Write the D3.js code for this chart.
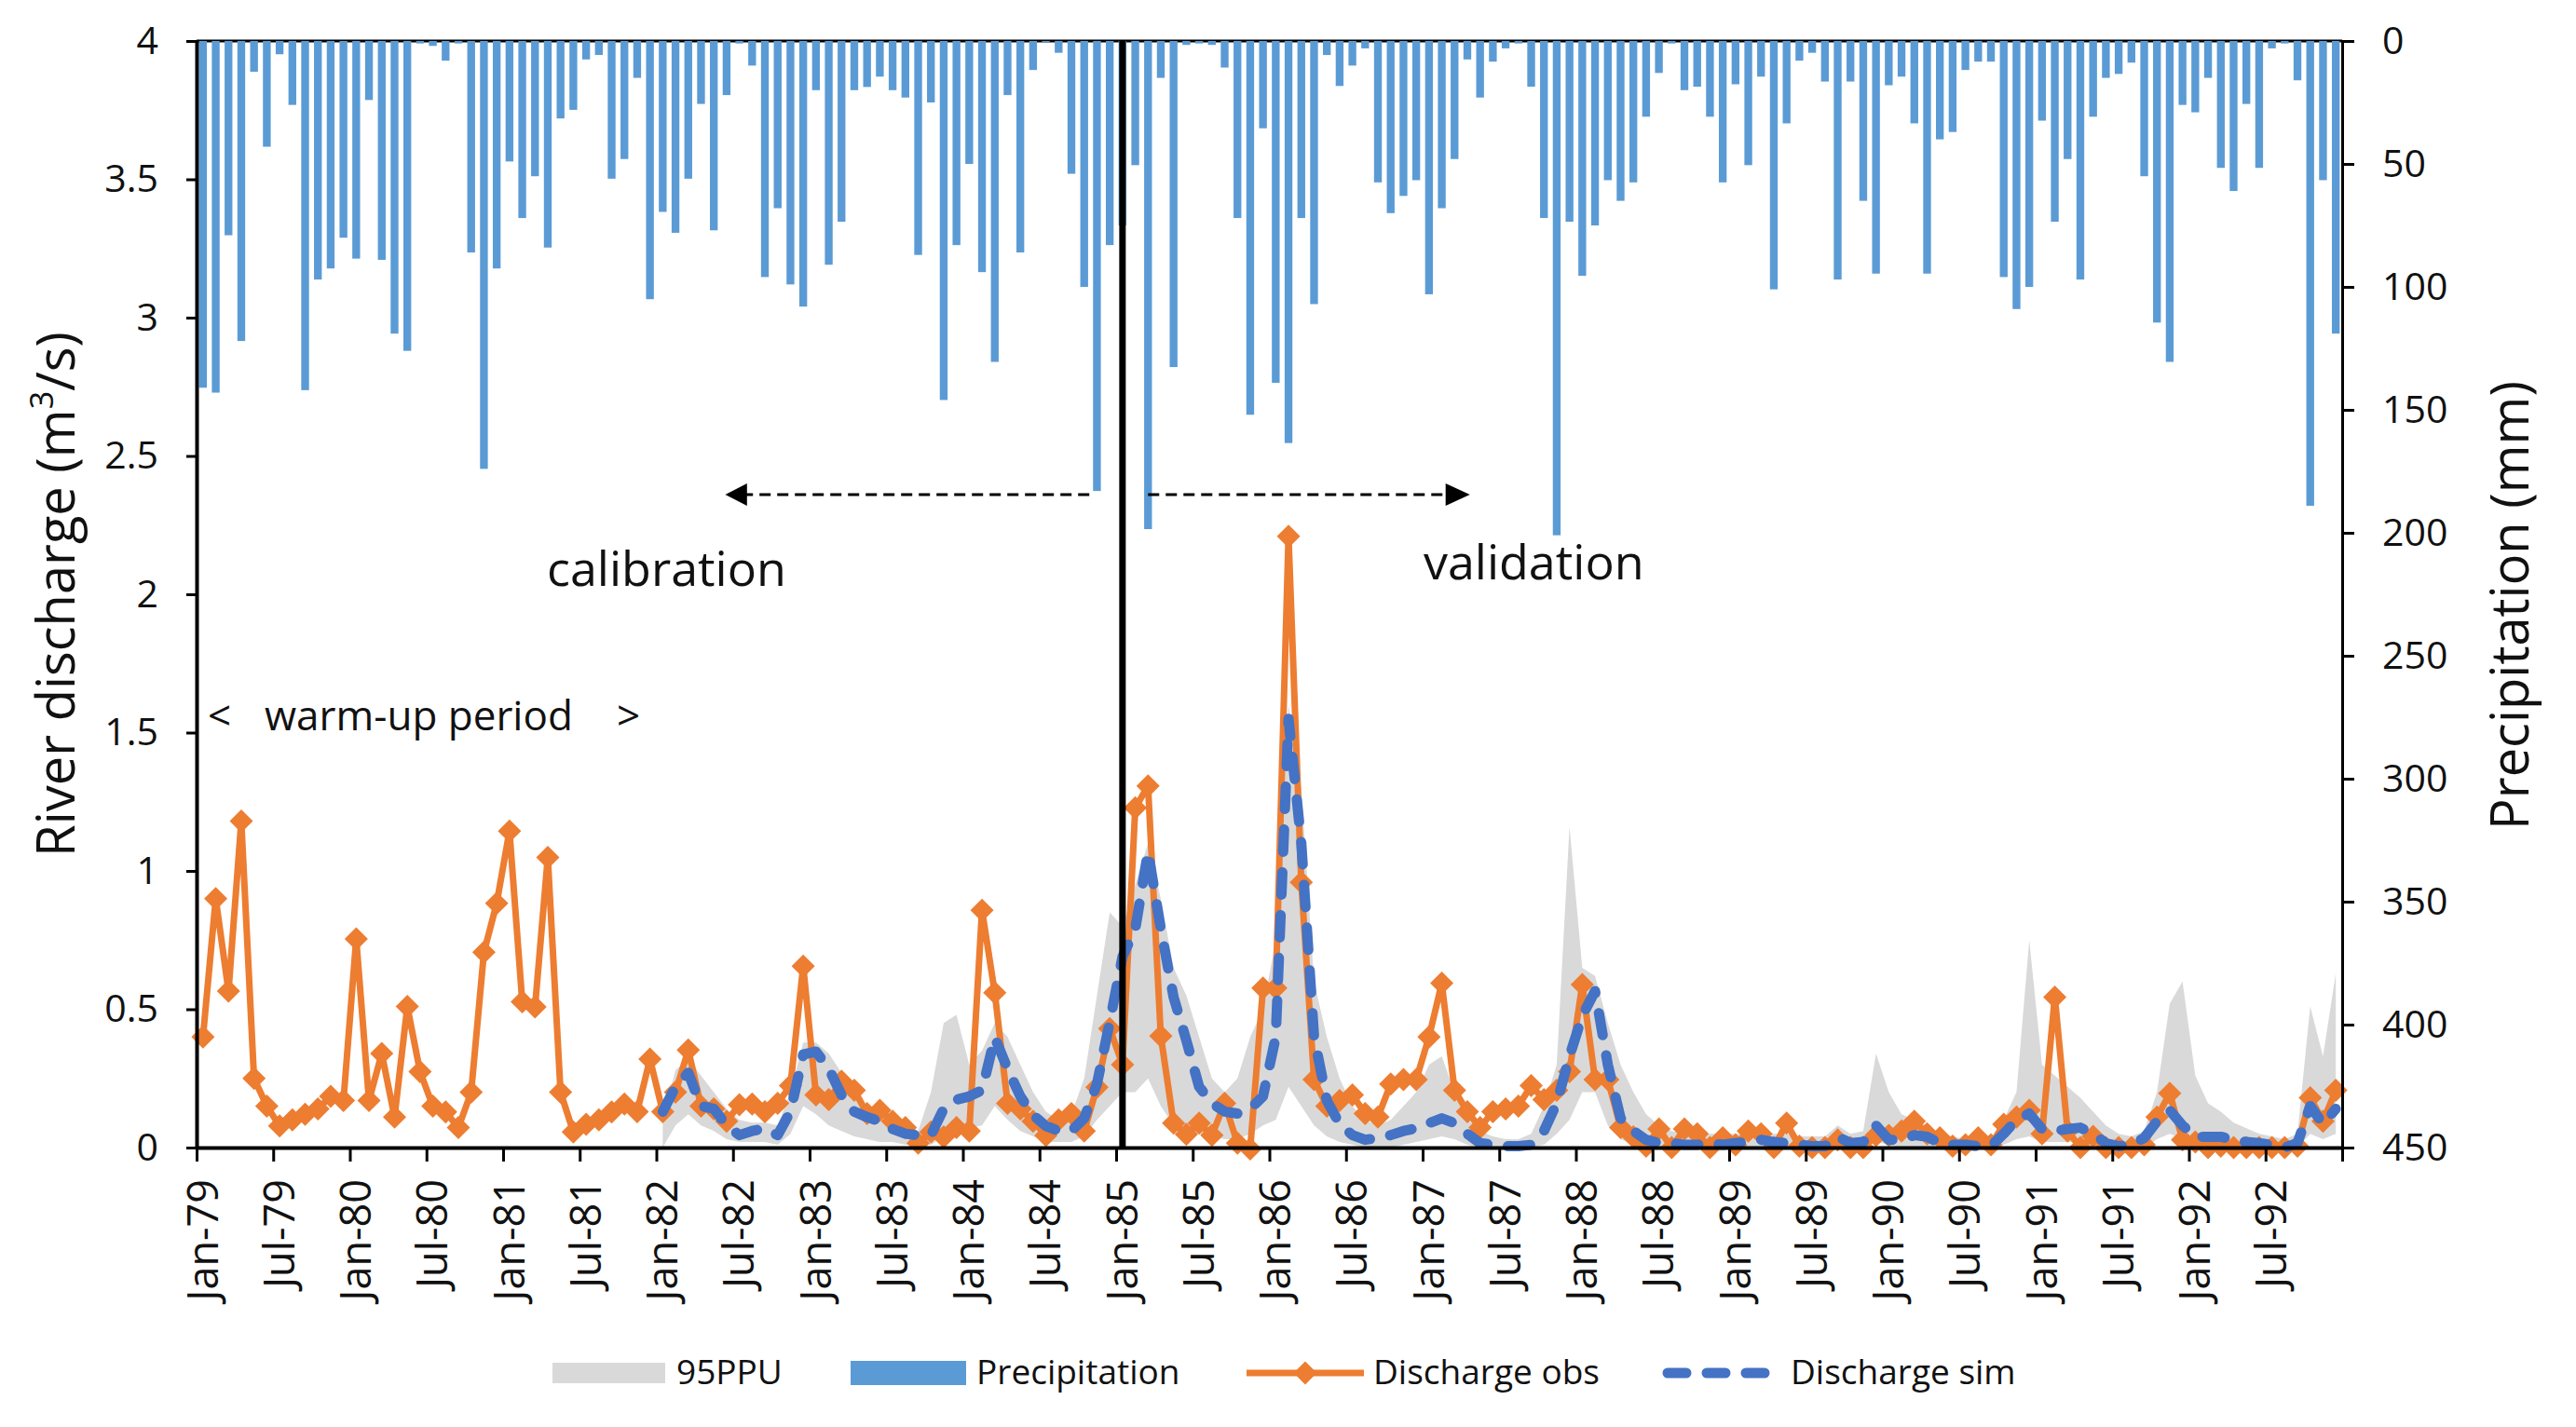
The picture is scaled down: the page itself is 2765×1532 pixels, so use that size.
<!DOCTYPE html>
<html>
<head>
<meta charset="utf-8">
<script src="https://cdn.jsdelivr.net/npm/d3@7"></script>
<style>
  body { margin: 0; background: #fff; }
  text { font-family: "Open Sans", "Noto Sans", sans-serif; fill: #111; }
</style>
</head>
<body>
<div id="chart"></div>
<script>
// months Jan-79 .. Dec-92
var years = ["79","80","81","82","83","84","85","86","87","88","89","90","91","92"];
var monthNames = ["Jan","Feb","Mar","Apr","May","Jun","Jul","Aug","Sep","Oct","Nov","Dec"];
var months = [];
years.forEach(function (y) {
    monthNames.forEach(function (m) { months.push(m + "-" + y); });
});

var xTickLabels = ["Jan-79","Jul-79","Jan-80","Jul-80","Jan-81","Jul-81","Jan-82","Jul-82",
    "Jan-83","Jul-83","Jan-84","Jul-84","Jan-85","Jul-85","Jan-86","Jul-86","Jan-87","Jul-87",
    "Jan-88","Jul-88","Jan-89","Jul-89","Jan-90","Jul-90","Jan-91","Jul-91","Jan-92","Jul-92"];
var leftTicks = [0, 0.5, 1, 1.5, 2, 2.5, 3, 3.5, 4];
var rightTicks = [0, 50, 100, 150, 200, 250, 300, 350, 400, 450];

// monthly precipitation (mm), Jan-79 .. Dec-92
var precipitation = [
    141, 143, 79, 122, 12.5, 43, 5.4, 26, 142, 97, 92.5, 80,
    88.5, 24, 89, 119, 126, 1, 2, 8, 1, 86, 174, 92.5,
    49, 72, 55, 84, 31.5, 28, 7.5, 5.7, 56, 48, 15, 105,
    69.5, 78, 56, 25.6, 77, 22, 1, 10, 96, 68, 99, 108,
    20, 91, 73.5, 20, 18.7, 14.5, 20, 23, 87, 25, 146, 83,
    50, 94, 130.5, 22, 86, 11.8, 0.5, 4.8, 54, 100, 183, 83,
    75, 50.5, 198.5, 15, 132.6, 1.6, 1, 1.6, 10.8, 72, 152, 35.5,
    139, 163.5, 72, 107, 5.7, 18.3, 10, 3, 57.5, 70, 63, 56.6,
    103, 68, 48, 7.5, 23, 8.4, 3, 1, 18.6, 72, 201, 73.5,
    95.5, 75, 56.6, 65, 57.5, 30.8, 13, 1, 20, 18.6, 30.8, 57.5,
    17.6, 50.5, 14.5, 101, 33.5, 8, 4.8, 16.5, 97, 16.5, 65, 94.6,
    18, 14.5, 33.5, 94.6, 40, 37, 11.8, 8.4, 8.4, 96, 109, 100,
    32.4, 73.5, 48, 97, 30.8, 15, 13.4, 8.8, 55, 114.5, 130.5, 26,
    29, 15, 51.6, 61, 25.6, 51.6, 3, 1, 16, 189, 56.6, 119
];

// observed discharge (m3/s), Jan-79 .. Dec-92
var dischargeObs = [
    0.40, 0.90, 0.566, 1.18, 0.25, 0.15, 0.078, 0.10, 0.12, 0.14, 0.185, 0.17,
    0.754, 0.17, 0.34, 0.11, 0.51, 0.274, 0.15, 0.129, 0.072, 0.20, 0.706, 0.883,
    1.144, 0.527, 0.508, 1.049, 0.20, 0.056, 0.084, 0.10, 0.129, 0.157, 0.13, 0.32,
    0.13, 0.20, 0.353, 0.15, 0.14, 0.095, 0.155, 0.157, 0.13, 0.16, 0.224, 0.656,
    0.19, 0.173, 0.24, 0.207, 0.123, 0.135, 0.095, 0.072, 0.016, 0.056, 0.039, 0.072,
    0.06, 0.858, 0.56, 0.16, 0.14, 0.095, 0.044, 0.10, 0.123, 0.06, 0.218, 0.43,
    0.30, 1.228, 1.307, 0.403, 0.088, 0.048, 0.088, 0.045, 0.16, 0.016, -0.005, 0.577,
    0.577, 2.21, 0.959, 0.246, 0.15, 0.17, 0.19, 0.123, 0.11, 0.23, 0.246, 0.246,
    0.40, 0.594, 0.207, 0.13, 0.072, 0.13, 0.14, 0.15, 0.224, 0.173, 0.207, 0.274,
    0.589, 0.246, 0.246, 0.072, 0.039, 0.005, 0.067, 0.0, 0.067, 0.05, 0.0, 0.035,
    0.01, 0.06, 0.05, 0.0, 0.088, 0.005, 0.0, 0.0, 0.028, 0.0, 0.0, 0.044,
    0.044, 0.06, 0.095, 0.05, 0.035, 0.005, 0.01, 0.035, 0.01, 0.084, 0.11, 0.135,
    0.05, 0.544, 0.06, 0.0, 0.04, 0.0, 0.0, 0.0, 0.01, 0.11, 0.196, 0.028,
    0.02, 0.0, 0.005, 0.0, 0.0, 0.0, 0.0, 0.0, 0.005, 0.18, 0.095, 0.207
];

// simulated discharge and 95PPU band start at Jan-82
var simStart = "Jan-82";
var dischargeSim = [
    0.13, 0.22, 0.27, 0.15, 0.14, 0.08, 0.045, 0.06, 0.07, 0.045, 0.13, 0.336,
    0.347, 0.285, 0.19, 0.13, 0.11, 0.095, 0.067, 0.05, 0.045, 0.045, 0.14, 0.173,
    0.185, 0.207, 0.398, 0.285, 0.185, 0.117, 0.078, 0.06, 0.06, 0.106, 0.23, 0.454,
    0.69, 0.79, 1.07, 0.79, 0.544, 0.387, 0.22, 0.16, 0.13, 0.123, 0.14, 0.185,
    0.40, 1.55, 1.10, 0.40, 0.17, 0.085, 0.045, 0.028, 0.035, 0.045, 0.06, 0.07,
    0.088, 0.106, 0.088, 0.05, 0.016, 0.01, 0.005, 0.005, 0.01, 0.06, 0.16, 0.33,
    0.476, 0.566, 0.30, 0.106, 0.06, 0.028, 0.016, 0.016, 0.01, 0.01, 0.016, 0.01,
    0.016, 0.02, 0.028, 0.02, 0.016, 0.01, 0.005, 0.005, 0.039, 0.016, 0.02, 0.08,
    0.028, 0.028, 0.045, 0.039, 0.016, 0.01, 0.01, 0.005, 0.005, 0.05, 0.10, 0.123,
    0.067, 0.06, 0.067, 0.072, 0.05, 0.016, 0.005, 0.01, 0.035, 0.095, 0.135, 0.08,
    0.039, 0.039, 0.039, 0.028, 0.02, 0.016, 0.01, 0.0, 0.016, 0.15, 0.085, 0.14
];
var ppuUpper = [
    0.10, 0.28, 0.32, 0.26, 0.20, 0.14, 0.10, 0.09, 0.09, 0.08, 0.20, 0.38,
    0.38, 0.34, 0.27, 0.20, 0.15, 0.12, 0.10, 0.08, 0.06, 0.20, 0.45, 0.48,
    0.30, 0.35, 0.45, 0.40, 0.30, 0.20, 0.13, 0.10, 0.12, 0.25, 0.55, 0.85,
    0.80, 0.95, 1.10, 0.90, 0.65, 0.55, 0.40, 0.25, 0.20, 0.25, 0.40, 0.50,
    0.75, 1.60, 1.30, 0.60, 0.40, 0.25, 0.15, 0.10, 0.08, 0.10, 0.15, 0.20,
    0.30, 0.33, 0.20, 0.12, 0.06, 0.04, 0.03, 0.03, 0.05, 0.15, 0.30, 1.16,
    0.65, 0.62, 0.45, 0.30, 0.20, 0.12, 0.08, 0.06, 0.05, 0.05, 0.05, 0.05,
    0.05, 0.05, 0.06, 0.05, 0.05, 0.04, 0.04, 0.04, 0.08, 0.05, 0.06, 0.34,
    0.20, 0.12, 0.10, 0.08, 0.05, 0.04, 0.03, 0.03, 0.03, 0.10, 0.20, 0.75,
    0.30, 0.26, 0.22, 0.18, 0.13, 0.08, 0.05, 0.04, 0.06, 0.20, 0.52, 0.60,
    0.26, 0.16, 0.13, 0.09, 0.07, 0.05, 0.04, 0.03, 0.05, 0.51, 0.33, 0.63
];
var ppuLower = [
    0.0, 0.08, 0.12, 0.08, 0.06, 0.03, 0.02, 0.02, 0.02, 0.01, 0.05, 0.15,
    0.12, 0.08, 0.06, 0.04, 0.03, 0.02, 0.02, 0.01, 0.01, 0.01, 0.04, 0.06,
    0.07, 0.08, 0.15, 0.10, 0.06, 0.04, 0.02, 0.02, 0.02, 0.04, 0.10, 0.15,
    0.20, 0.20, 0.25, 0.15, 0.08, 0.06, 0.05, 0.04, 0.03, 0.03, 0.05, 0.08,
    0.10, 0.22, 0.15, 0.08, 0.04, 0.02, 0.01, 0.0, 0.0, 0.0, 0.01, 0.02,
    0.03, 0.04, 0.03, 0.01, 0.0, 0.0, 0.0, 0.0, 0.0, 0.01, 0.05, 0.10,
    0.20, 0.20, 0.08, 0.03, 0.01, 0.0, 0.0, 0.0, 0.0, 0.0, 0.0, 0.0,
    0.0, 0.0, 0.0, 0.0, 0.0, 0.0, 0.0, 0.0, 0.0, 0.0, 0.0, 0.02,
    0.01, 0.0, 0.0, 0.0, 0.0, 0.0, 0.0, 0.0, 0.0, 0.01, 0.03, 0.04,
    0.02, 0.02, 0.02, 0.02, 0.01, 0.0, 0.0, 0.0, 0.0, 0.03, 0.05, 0.03,
    0.01, 0.01, 0.01, 0.0, 0.0, 0.0, 0.0, 0.0, 0.0, 0.05, 0.03, 0.05
];

var splitMonth = "Jan-85";

// svg container
var svgWidth = 2765;
var svgHeight = 1532;
var plot = { left: 211, right: 2514, top: 44, bottom: 1232 };

var svg = d3.select("#chart").append("svg")
    .attr("width", svgWidth)
    .attr("height", svgHeight);

// scales
var xScale = d3.scaleBand()
    .domain(months)
    .range([plot.left, plot.right])
    .paddingInner(0.39)
    .paddingOuter(0.195);
var xIndex = d3.scaleLinear()
    .domain([0, months.length])
    .range([plot.left, plot.right]);
var yScale = d3.scaleLinear().domain([0, 4]).range([plot.bottom, plot.top]);
var pScale = d3.scaleLinear().domain([0, 450]).range([plot.top, plot.bottom]);

function cx(m) { return xScale(m) + xScale.bandwidth() / 2; }

var simMonths = months.slice(months.indexOf(simStart));

// 95PPU band
var band = simMonths.map(function (m, i) { return { m: m, lo: ppuLower[i], hi: ppuUpper[i] }; });
svg.append("path")
    .datum(band)
    .attr("fill", "#d9d9d9")
    .attr("d", d3.area()
        .x(function (d) { return cx(d.m); })
        .y0(function (d) { return yScale(d.lo); })
        .y1(function (d) { return yScale(d.hi); }));

// baseline for the precipitation bars
svg.append("line")
    .attr("x1", plot.left).attr("x2", plot.right)
    .attr("y1", pScale(0)).attr("y2", pScale(0))
    .attr("stroke", "#000").attr("stroke-width", 3);

// precipitation bars hanging from the top
svg.append("g").selectAll("rect")
    .data(precipitation)
    .enter()
    .append("rect")
    .attr("x", function (d, i) { return xScale(months[i]); })
    .attr("y", pScale(0))
    .attr("width", xScale.bandwidth())
    .attr("height", function (d) { return pScale(d) - pScale(0); })
    .attr("fill", "#5b9bd5");

// observed discharge
var obs = months.map(function (m, i) { return { m: m, v: dischargeObs[i] }; });
svg.append("path")
    .datum(obs)
    .attr("fill", "none")
    .attr("stroke", "#ed7d31")
    .attr("stroke-width", 7)
    .attr("stroke-linejoin", "round")
    .attr("d", d3.line()
        .x(function (d) { return cx(d.m); })
        .y(function (d) { return yScale(d.v); }));

var diamond = "M0,-12.5L12.5,0L0,12.5L-12.5,0Z";
svg.append("g").selectAll("path")
    .data(obs)
    .enter()
    .append("path")
    .attr("d", diamond)
    .attr("transform", function (d) { return "translate(" + cx(d.m) + "," + yScale(d.v) + ")"; })
    .attr("fill", "#ed7d31");

// simulated discharge
var sim = simMonths.map(function (m, i) { return { m: m, v: dischargeSim[i] }; });
svg.append("path")
    .datum(sim)
    .attr("fill", "none")
    .attr("stroke", "#4472c4")
    .attr("stroke-width", 11)
    .attr("stroke-dasharray", "24,22")
    .attr("stroke-linecap", "round")
    .attr("stroke-linejoin", "round")
    .attr("d", d3.line()
        .x(function (d) { return cx(d.m); })
        .y(function (d) { return yScale(d.v); }));

// calibration / validation split
svg.append("line")
    .attr("x1", cx(splitMonth)).attr("x2", cx(splitMonth))
    .attr("y1", plot.top).attr("y2", plot.bottom)
    .attr("stroke", "#000").attr("stroke-width", 7);

// axes
var leftAxis = d3.axisLeft(yScale)
    .tickValues(leftTicks)
    .tickFormat(function (d) { return String(d); })
    .tickSize(11).tickSizeOuter(0).tickPadding(30);
var rightAxis = d3.axisRight(pScale)
    .tickValues(rightTicks)
    .tickSize(13).tickSizeOuter(0).tickPadding(30);
var bottomTicks = d3.axisBottom(xIndex)
    .tickValues(d3.range(0, months.length + 1, 6))
    .tickFormat("")
    .tickSize(15).tickSizeOuter(0);
var bottomLabels = d3.axisBottom(xScale)
    .tickValues(xTickLabels)
    .tickSize(0);

function styleAxis(g, width) {
    g.select(".domain").attr("stroke", "#000").attr("stroke-width", width);
    g.selectAll(".tick line").attr("stroke", "#000").attr("stroke-width", 3);
    g.selectAll("text").attr("fill", "#111").style("font-family", "'Open Sans', sans-serif");
}

svg.append("g")
    .attr("transform", "translate(" + plot.left + ",0)")
    .call(leftAxis)
    .call(styleAxis, 4)
    .selectAll("text").style("font-size", "41px");

svg.append("g")
    .attr("transform", "translate(" + plot.right + ",0)")
    .call(rightAxis)
    .call(styleAxis, 3)
    .selectAll("text").style("font-size", "41px");

svg.append("g")
    .attr("transform", "translate(0," + plot.bottom + ")")
    .call(bottomTicks)
    .call(styleAxis, 4);

var lab = svg.append("g")
    .attr("transform", "translate(0," + plot.bottom + ")")
    .call(bottomLabels);
lab.select(".domain").remove();
lab.selectAll("text")
    .attr("transform", "rotate(-90)")
    .attr("x", -34)
    .attr("y", 0)
    .attr("dy", "0.35em")
    .style("text-anchor", "end")
    .style("font-size", "45px")
    .style("font-family", "'Open Sans', sans-serif")
    .attr("fill", "#111");

// axis titles
var leftTitle = svg.append("text")
    .attr("transform", "translate(60," + (plot.top + plot.bottom) / 2 + ") rotate(-90)")
    .attr("text-anchor", "middle")
    .attr("dy", "0.35em")
    .style("font-size", "56px");
leftTitle.append("tspan").text("River discharge (m");
leftTitle.append("tspan").attr("baseline-shift", "super").style("font-size", "34px").text("3");
leftTitle.append("tspan").text("/s)");

svg.append("text")
    .attr("transform", "translate(2694," + ((plot.top + plot.bottom) / 2 + 12) + ") rotate(-90)")
    .attr("text-anchor", "middle")
    .attr("dy", "0.35em")
    .style("font-size", "56px")
    .text("Precipitation (mm)");

// annotations
var arrowY = yScale(2.36);
svg.append("line")
    .attr("x1", xIndex(69.9)).attr("x2", xIndex(43))
    .attr("y1", arrowY).attr("y2", arrowY)
    .attr("stroke", "#000").attr("stroke-width", 3).attr("stroke-dasharray", "12,7");
svg.append("path")
    .attr("d", "M" + xIndex(41.4) + "," + arrowY + "L" + xIndex(43.1) + "," + (arrowY - 12) + "L" + xIndex(43.1) + "," + (arrowY + 12) + "Z")
    .attr("fill", "#000");
svg.append("line")
    .attr("x1", xIndex(74.5)).attr("x2", xIndex(97.8))
    .attr("y1", arrowY).attr("y2", arrowY)
    .attr("stroke", "#000").attr("stroke-width", 3).attr("stroke-dasharray", "12,7");
svg.append("path")
    .attr("d", "M" + xIndex(99.7) + "," + arrowY + "L" + xIndex(97.8) + "," + (arrowY - 12) + "L" + xIndex(97.8) + "," + (arrowY + 12) + "Z")
    .attr("fill", "#000");

svg.append("text")
    .attr("x", xIndex(36.8)).attr("y", yScale(2.03))
    .attr("text-anchor", "middle")
    .style("font-size", "52px")
    .text("calibration");
svg.append("text")
    .attr("x", xIndex(104.7)).attr("y", yScale(2.055))
    .attr("text-anchor", "middle")
    .style("font-size", "52px")
    .text("validation");

var warmY = yScale(1.51);
svg.append("text").attr("x", 223).attr("y", warmY).style("font-size", "44px").text("<");
svg.append("text").attr("x", 284).attr("y", warmY).style("font-size", "44px").text("warm-up period");
svg.append("text").attr("x", 662).attr("y", warmY).style("font-size", "44px").text(">");

// legend
var legY = 1474;
var legend = svg.append("g").style("font-size", "37px");
legend.append("rect").attr("x", 593).attr("y", legY - 11).attr("width", 121).attr("height", 22).attr("fill", "#d9d9d9");
legend.append("text").attr("x", 726).attr("y", legY + 12).text("95PPU");
legend.append("rect").attr("x", 913).attr("y", legY - 13).attr("width", 124).attr("height", 26).attr("fill", "#5b9bd5");
legend.append("text").attr("x", 1048).attr("y", legY + 12).text("Precipitation");
legend.append("line").attr("x1", 1338).attr("x2", 1464).attr("y1", legY).attr("y2", legY)
    .attr("stroke", "#ed7d31").attr("stroke-width", 7);
legend.append("path").attr("d", diamond).attr("transform", "translate(1401," + legY + ")").attr("fill", "#ed7d31");
legend.append("text").attr("x", 1474).attr("y", legY + 12).text("Discharge obs");
legend.append("line").attr("x1", 1790).attr("x2", 1900).attr("y1", legY).attr("y2", legY)
    .attr("stroke", "#4472c4").attr("stroke-width", 11)
    .attr("stroke-dasharray", "20,22").attr("stroke-linecap", "round");
legend.append("text").attr("x", 1922).attr("y", legY + 12).text("Discharge sim");
</script>
</body>
</html>
